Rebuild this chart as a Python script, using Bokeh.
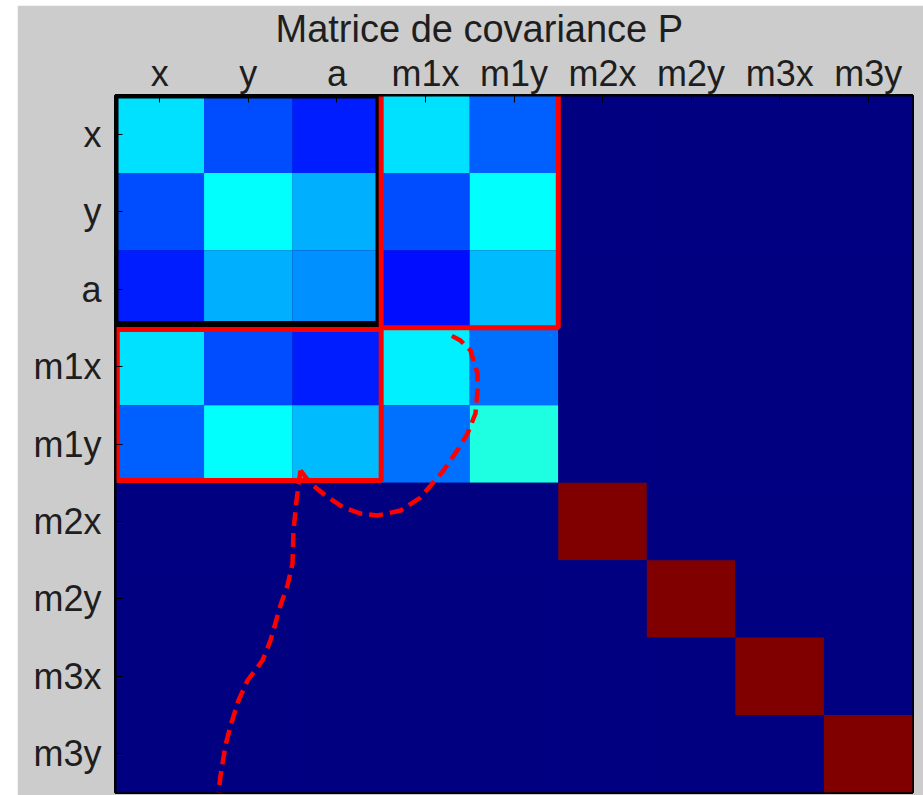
import numpy as np
from bokeh.plotting import figure
from bokeh.layouts import column, row
from bokeh.models import Range1d, FixedTicker, LinearColorMapper, ColumnDataSource, Spacer
from bokeh.embed import file_html
from bokeh.resources import INLINE

# ---- data -------------------------------------------------------------
labels = ["x", "y", "a", "m1x", "m1y", "m2x", "m2y", "m3x", "m3y"]

# normalised covariance values (jet colour scale 0..1), row by row
row_x   = [0.345, 0.203, 0.156, 0.345, 0.220, 0.0, 0.0, 0.0, 0.0]
row_y   = [0.203, 0.378, 0.297, 0.203, 0.378, 0.0, 0.0, 0.0, 0.0]
row_a   = [0.156, 0.297, 0.266, 0.140, 0.312, 0.0, 0.0, 0.0, 0.0]
row_m1x = [0.345, 0.203, 0.156, 0.360, 0.235, 0.0, 0.0, 0.0, 0.0]
row_m1y = [0.220, 0.378, 0.312, 0.235, 0.406, 0.0, 0.0, 0.0, 0.0]
row_m2x = [0.0, 0.0, 0.0, 0.0, 0.0, 1.0, 0.0, 0.0, 0.0]
row_m2y = [0.0, 0.0, 0.0, 0.0, 0.0, 0.0, 1.0, 0.0, 0.0]
row_m3x = [0.0, 0.0, 0.0, 0.0, 0.0, 0.0, 0.0, 1.0, 0.0]
row_m3y = [0.0, 0.0, 0.0, 0.0, 0.0, 0.0, 0.0, 0.0, 1.0]
rows = [row_x, row_y, row_a, row_m1x, row_m1y, row_m2x, row_m2y, row_m3x, row_m3y]

# annotation curve (cell units, origin top-left of the matrix)
curve_down_x = [2.089, 2.044, 2.010, 1.999, 1.942, 1.863, 1.750, 1.660, 1.491, 1.389, 1.299, 1.242, 1.186, 1.165]
curve_down_y = [4.842, 5.230, 5.617, 6.043, 6.327, 6.585, 7.037, 7.295, 7.554, 7.812, 8.135, 8.393, 8.781, 9.000]
curve_loop_x = [2.089, 2.202, 2.371, 2.575, 2.767, 2.958, 3.218, 3.444, 3.704, 3.873, 3.975, 4.065, 4.088, 4.088, 4.009, 3.896, 3.749]
curve_loop_y = [4.842, 5.010, 5.165, 5.320, 5.398, 5.424, 5.359, 5.191, 4.842, 4.558, 4.365, 4.106, 3.809, 3.590, 3.293, 3.164, 3.073]

# ---- jet palette ------------------------------------------------------
def jet(v):
    r = min(max(1.5 - abs(4 * v - 3), 0), 1)
    g = min(max(1.5 - abs(4 * v - 2), 0), 1)
    b = min(max(1.5 - abs(4 * v - 1), 0), 1)
    return "#%02x%02x%02x" % (int(round(r * 255)), int(round(g * 255)), int(round(b * 255)))

palette = [jet(i / 255) for i in range(256)]
mapper = LinearColorMapper(palette=palette, low=0, high=1)

n = len(labels)
xs, ys, vals = [], [], []
for i, r in enumerate(rows):
    for j, v in enumerate(r):
        xs.append(j)
        ys.append(i)
        vals.append(v)
src = ColumnDataSource(dict(x=xs, y=ys, v=vals))

FONT = "Liberation Sans"
TXT = "#1e1e1e"

p = figure(width=906, height=790, output_backend="svg", toolbar_location=None,
           x_range=Range1d(-0.5, n - 0.5), y_range=Range1d(n - 0.5, -0.5),
           x_axis_location="above", title="Matrice de covariance P",
           min_border_left=98, min_border_right=11, min_border_bottom=3, min_border_top=0)

p.border_fill_color = "#cccccc"
p.background_fill_color = "#00008f"
p.outline_line_color = "black"
p.outline_line_width = 3
p.grid.visible = False

p.title.text_font = FONT
p.title.text_font_size = "38px"
p.title.text_font_style = "normal"
p.title.text_color = TXT
p.title.align = "left"
p.title.offset = 160
p.title.standoff = 0

for ax in (p.xaxis[0], p.yaxis[0]):
    ax.ticker = FixedTicker(ticks=list(range(n)))
    ax.major_label_overrides = {i: lab for i, lab in enumerate(labels)}
    ax.major_label_text_font = FONT
    ax.major_label_text_font_size = "36px"
    ax.major_label_text_color = TXT
    ax.major_tick_in = 7
    ax.major_tick_out = 0
    ax.minor_tick_line_color = None
    ax.major_tick_line_color = "black"
    ax.axis_line_color = "black"
    ax.axis_line_width = 2
p.xaxis.major_label_standoff = 2
p.yaxis.major_label_standoff = 14

p.rect(x="x", y="y", width=1, height=1, source=src,
       fill_color={"field": "v", "transform": mapper}, line_color=None)

# annotation boxes
p.quad(left=[-0.5], right=[2.47], top=[-0.5], bottom=[2.45],
       fill_color=None, line_color="black", line_width=6)
p.quad(left=[2.5], right=[4.5], top=[-0.53], bottom=[2.5],
       fill_color=None, line_color="#ff0000", line_width=5)
p.quad(left=[-0.48], right=[2.5], top=[2.52], bottom=[4.47],
       fill_color=None, line_color="#ff0000", line_width=5)

# dashed annotation curve
p.line([v - 0.5 for v in curve_down_x], [v - 0.5 for v in curve_down_y],
       line_color="#ff0000", line_width=4.5, line_dash="14 7")
p.line([v - 0.5 for v in curve_loop_x], [v - 0.5 for v in curve_loop_y],
       line_color="#ff0000", line_width=4.5, line_dash="14 7")

layout = column(Spacer(height=5), row(Spacer(width=17), p))
open("out.html", "w").write(file_html(layout, INLINE))
